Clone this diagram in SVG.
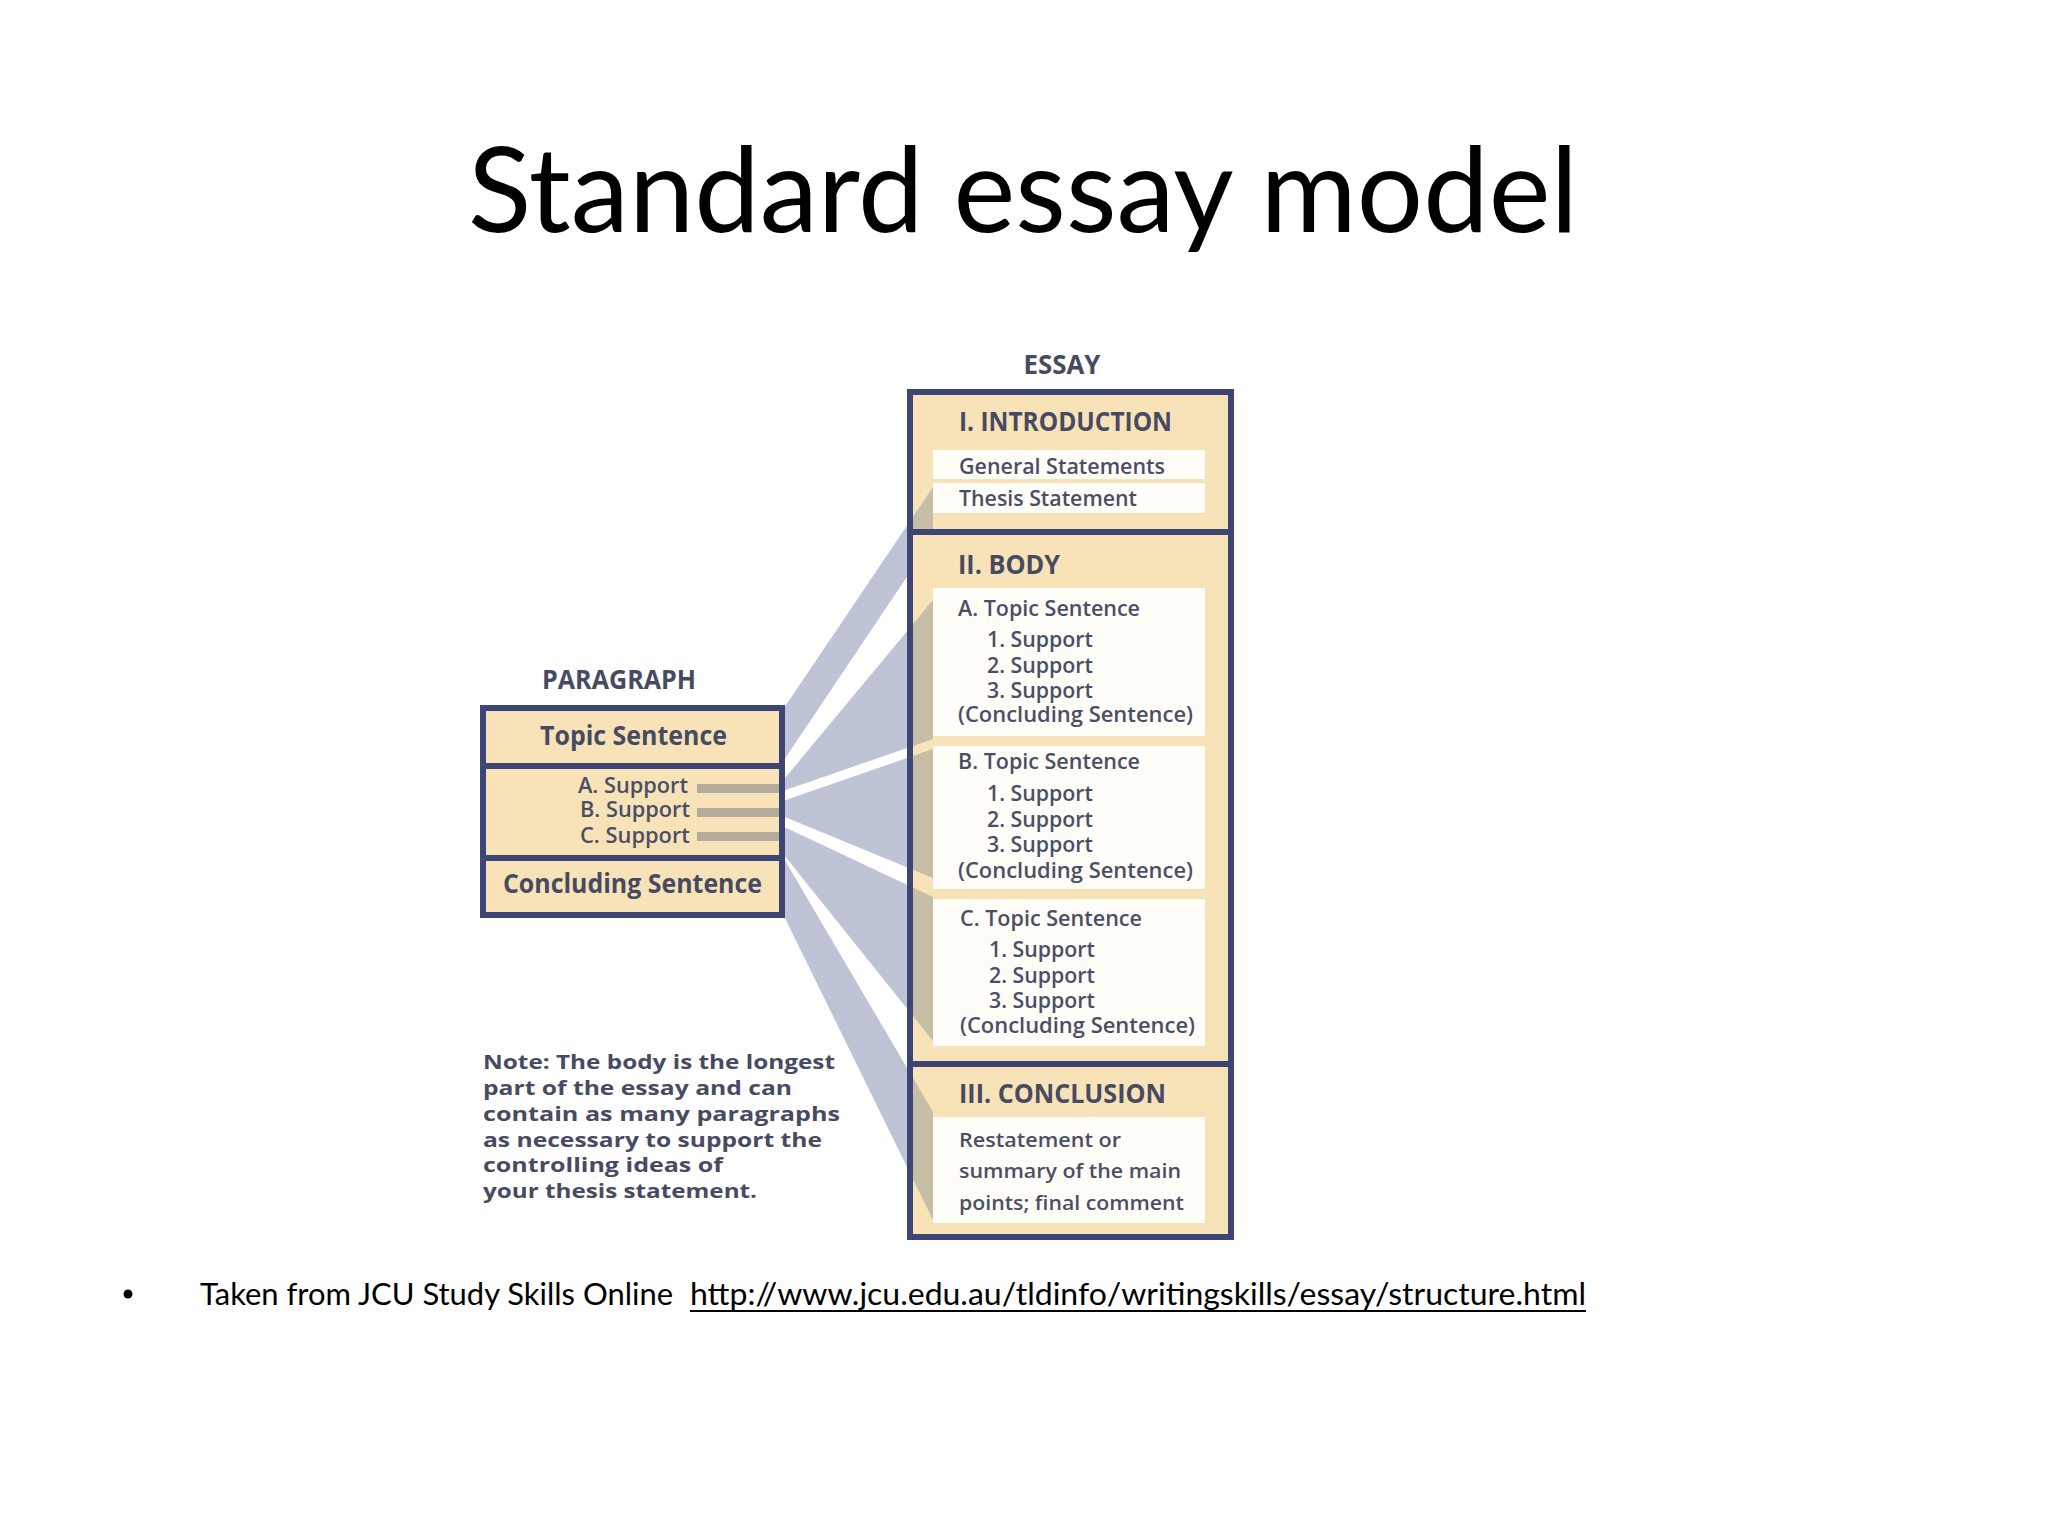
<svg xmlns="http://www.w3.org/2000/svg" width="2048" height="1536" viewBox="0 0 2048 1536">
<defs>
<style>
.t{font-family:"Open Sans","Noto Sans","Liberation Sans",sans-serif;font-weight:600;fill:#4b4f66}
.h{font-family:"Open Sans","Noto Sans","Liberation Sans",sans-serif;font-weight:700;fill:#474b62}
.tan{fill:#f8e3b9}
.wb{fill:#fffdf8}
.bd{fill:none;stroke:#3d4574;stroke-width:6}
.wedge{fill:#bec4d6}
.khaki{fill:#c6bea6}
.cal{font-family:"Lato","Open Sans","Liberation Sans",sans-serif;fill:#000}
</style>
<clipPath id="cIntro"><rect x="913" y="395" width="20" height="134"/></clipPath>
<clipPath id="cRest"><rect x="913" y="535" width="20" height="526"/><rect x="913" y="1067" width="20" height="167"/></clipPath>
</defs>
<rect width="2048" height="1536" fill="#ffffff"/>

<text id="title" class="cal" x="468" y="232" font-size="118" textLength="1110" lengthAdjust="spacingAndGlyphs">Standard essay model</text>

<g id="connectors">
<polygon class="wedge" points="780,714 933,487 933,538 780,766"/>
<polygon class="wedge" points="780,784 933,600 933,739 780,792"/>
<polygon class="wedge" points="780,802 933,749 933,878 780,815"/>
<polygon class="wedge" points="780,825 933,897 933,1041 780,850"/>
<polygon class="wedge" points="780,852 933,1112 933,1220 780,908"/>
</g>

<g id="essay">
<rect class="tan" x="910" y="392" width="321" height="845"/>
<g clip-path="url(#cIntro)"><polygon class="khaki" points="780,714 933,487 933,538 780,766"/></g>
<g clip-path="url(#cRest)">
<polygon class="khaki" points="780,784 933,600 933,739 780,792"/>
<polygon class="khaki" points="780,802 933,749 933,878 780,815"/>
<polygon class="khaki" points="780,825 933,897 933,1041 780,850"/>
<polygon class="khaki" points="780,852 933,1112 933,1220 780,908"/>
</g>
<text class="h" x="1062" y="374" font-size="27" text-anchor="middle" textLength="77" lengthAdjust="spacingAndGlyphs">ESSAY</text>
<g id="intro">
<rect class="wb" x="933" y="450" width="272" height="29"/>
<rect class="wb" x="933" y="483" width="272" height="30"/>
<text class="h" x="959" y="431" font-size="27" textLength="213" lengthAdjust="spacingAndGlyphs">I. INTRODUCTION</text>
<text class="t" x="959" y="474" font-size="21" textLength="206" lengthAdjust="spacingAndGlyphs">General Statements</text>
<text class="t" x="959" y="506" font-size="21" textLength="178" lengthAdjust="spacingAndGlyphs">Thesis Statement</text>
</g>
<g id="body">
<text class="h" x="958" y="574" font-size="27" textLength="102" lengthAdjust="spacingAndGlyphs">II. BODY</text>
<rect class="wb" x="933" y="588" width="272" height="148"/>
<rect class="wb" x="933" y="746" width="272" height="143"/>
<rect class="wb" x="933" y="899" width="272" height="147"/>
<text class="t" x="958" y="616" font-size="21" textLength="182" lengthAdjust="spacingAndGlyphs">A. Topic Sentence</text>
<text class="t" x="987" y="647" font-size="21" textLength="106" lengthAdjust="spacingAndGlyphs">1. Support</text>
<text class="t" x="987" y="673" font-size="21" textLength="106" lengthAdjust="spacingAndGlyphs">2. Support</text>
<text class="t" x="987" y="698" font-size="21" textLength="106" lengthAdjust="spacingAndGlyphs">3. Support</text>
<text class="t" x="958" y="722" font-size="21" textLength="235" lengthAdjust="spacingAndGlyphs">(Concluding Sentence)</text>
<text class="t" x="958" y="769" font-size="21" textLength="182" lengthAdjust="spacingAndGlyphs">B. Topic Sentence</text>
<text class="t" x="987" y="801" font-size="21" textLength="106" lengthAdjust="spacingAndGlyphs">1. Support</text>
<text class="t" x="987" y="827" font-size="21" textLength="106" lengthAdjust="spacingAndGlyphs">2. Support</text>
<text class="t" x="987" y="852" font-size="21" textLength="106" lengthAdjust="spacingAndGlyphs">3. Support</text>
<text class="t" x="958" y="878" font-size="21" textLength="235" lengthAdjust="spacingAndGlyphs">(Concluding Sentence)</text>
<text class="t" x="960" y="926" font-size="21" textLength="182" lengthAdjust="spacingAndGlyphs">C. Topic Sentence</text>
<text class="t" x="989" y="957" font-size="21" textLength="106" lengthAdjust="spacingAndGlyphs">1. Support</text>
<text class="t" x="989" y="983" font-size="21" textLength="106" lengthAdjust="spacingAndGlyphs">2. Support</text>
<text class="t" x="989" y="1008" font-size="21" textLength="106" lengthAdjust="spacingAndGlyphs">3. Support</text>
<text class="t" x="960" y="1033" font-size="21" textLength="235" lengthAdjust="spacingAndGlyphs">(Concluding Sentence)</text>
</g>
<g id="conclusion">
<rect class="wb" x="933" y="1117" width="272" height="106"/>
<text class="h" x="959" y="1103" font-size="27" textLength="207" lengthAdjust="spacingAndGlyphs">III. CONCLUSION</text>
<text class="t" x="959" y="1147" font-size="20" textLength="162" lengthAdjust="spacingAndGlyphs">Restatement or</text>
<text class="t" x="959" y="1178" font-size="20" textLength="222" lengthAdjust="spacingAndGlyphs">summary of the main</text>
<text class="t" x="959" y="1210" font-size="20" textLength="225" lengthAdjust="spacingAndGlyphs">points; final comment</text>
</g>
<rect class="bd" x="910" y="392" width="321" height="845"/>
<line class="bd" x1="910" y1="532" x2="1231" y2="532"/>
<line class="bd" x1="910" y1="1064" x2="1231" y2="1064"/>
</g>

<g id="paragraph">
<text class="h" x="542" y="689" font-size="26" textLength="154" lengthAdjust="spacingAndGlyphs">PARAGRAPH</text>
<rect class="tan" x="483" y="708" width="299" height="207"/>
<rect x="697" y="784" width="83" height="9" fill="#b5ab9b"/>
<rect x="697" y="808" width="83" height="9" fill="#b5ab9b"/>
<rect x="697" y="832" width="83" height="9" fill="#b5ab9b"/>
<text class="h" x="540" y="745" font-size="26" textLength="187" lengthAdjust="spacingAndGlyphs">Topic Sentence</text>
<text class="t" x="578" y="793" font-size="21" textLength="110" lengthAdjust="spacingAndGlyphs">A. Support</text>
<text class="t" x="580" y="817" font-size="21" textLength="110" lengthAdjust="spacingAndGlyphs">B. Support</text>
<text class="t" x="580" y="843" font-size="21" textLength="110" lengthAdjust="spacingAndGlyphs">C. Support</text>
<text class="h" x="503" y="893" font-size="26" textLength="259" lengthAdjust="spacingAndGlyphs">Concluding Sentence</text>
<rect class="bd" x="483" y="708" width="299" height="207"/>
<line class="bd" x1="483" y1="766" x2="782" y2="766"/>
<line class="bd" x1="483" y1="858" x2="782" y2="858"/>
</g>

<g id="note">
<text class="h" x="483" y="1069" font-size="19" textLength="352" lengthAdjust="spacingAndGlyphs">Note: The body is the longest</text>
<text class="h" x="483" y="1095" font-size="19" textLength="309" lengthAdjust="spacingAndGlyphs">part of the essay and can</text>
<text class="h" x="483" y="1121" font-size="19" textLength="357" lengthAdjust="spacingAndGlyphs">contain as many paragraphs</text>
<text class="h" x="483" y="1147" font-size="19" textLength="339" lengthAdjust="spacingAndGlyphs">as necessary to support the</text>
<text class="h" x="483" y="1172" font-size="19" textLength="240" lengthAdjust="spacingAndGlyphs">controlling ideas of</text>
<text class="h" x="483" y="1198" font-size="19" textLength="274" lengthAdjust="spacingAndGlyphs">your thesis statement.</text>
</g>

<g id="footnote">
<circle cx="128" cy="1294" r="4.5" fill="#000"/>
<text class="cal" x="200" y="1305" font-size="30" textLength="473" lengthAdjust="spacingAndGlyphs">Taken from JCU Study Skills Online</text>
<text class="cal" x="690" y="1305" font-size="30" textLength="896" lengthAdjust="spacingAndGlyphs">http://www.jcu.edu.au/tldinfo/writingskills/essay/structure.html</text>
<line x1="690" y1="1311" x2="1586" y2="1311" stroke="#000" stroke-width="2"/>
</g>
</svg>
